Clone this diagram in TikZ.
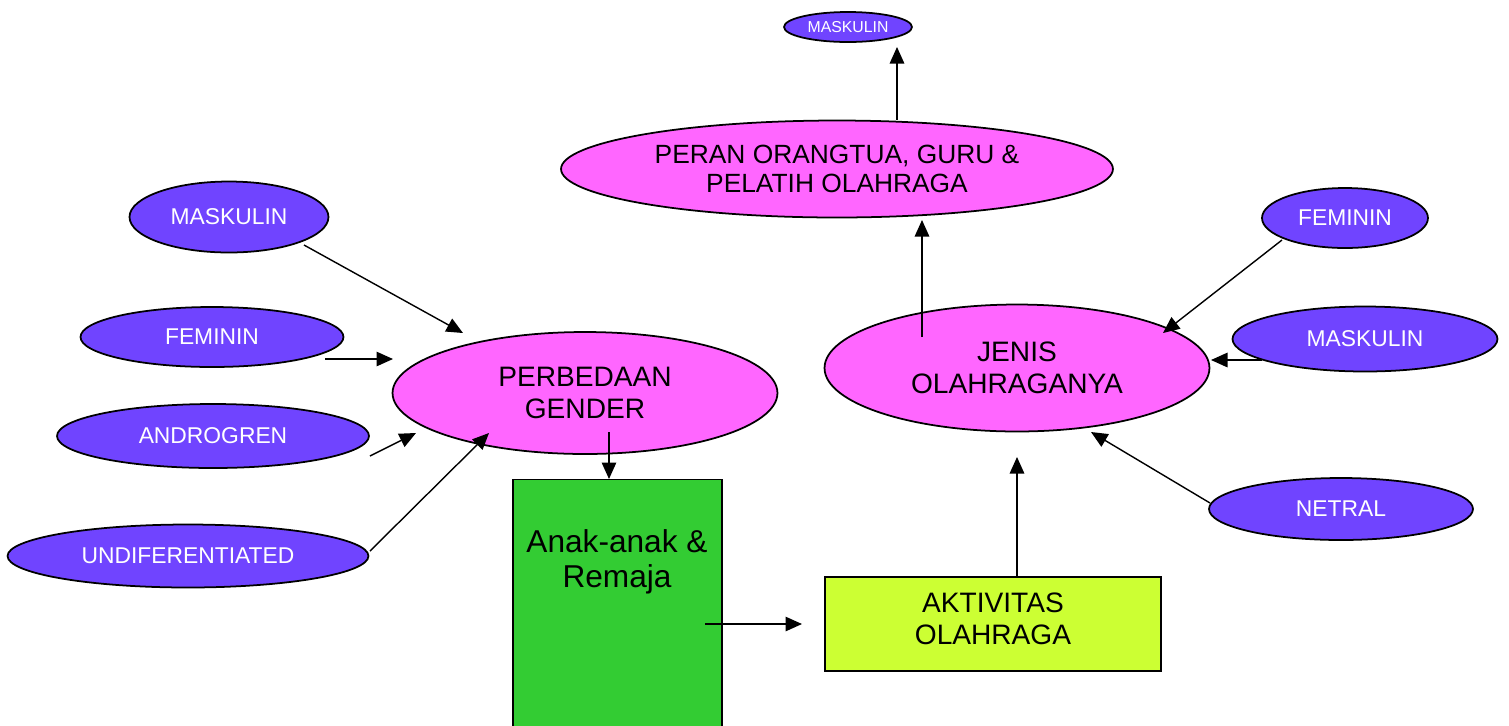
\documentclass[tikz,border=0pt]{standalone}
\usepackage{fontspec}
\setmainfont{Liberation Sans}
\usetikzlibrary{shapes.geometric,arrows.meta}
\definecolor{pinkfill}{HTML}{FF66FF}
\definecolor{purplefill}{HTML}{7044FF}
\definecolor{greenfill}{HTML}{33CC33}
\definecolor{limefill}{HTML}{CCFF33}
\tikzset{
  pinkell/.style={ellipse, draw=black, line width=1pt, fill=pinkfill, inner sep=0pt, align=center, font=\fontsize{16}{18}\selectfont},
  purpell/.style={ellipse, draw=black, line width=1pt, fill=purplefill, inner sep=0pt, text=white, font=\fontsize{13}{15}\selectfont},
  arr/.style={-{Triangle[length=0.33cm,width=0.29cm]}, line width=0.8pt},
}
\begin{document}
\begin{tikzpicture}[x=0.02cm,y=-0.02cm]
\useasboundingbox (0,0) rectangle (1509,725);
% ellipses
\node[purpell, minimum width=2.56cm, minimum height=0.6cm, font=\fontsize{9}{11}\selectfont] (topmask) at (848,27) {MASKULIN};
\node[pinkell, minimum width=11.04cm, minimum height=1.94cm, font=\fontsize{15}{16.5}\selectfont] (peran) at (837,169) {PERAN ORANGTUA, GURU \&\\PELATIH OLAHRAGA};
\node[purpell, minimum width=3.98cm, minimum height=1.42cm] (maskL) at (229,217) {MASKULIN};
\node[purpell, minimum width=5.26cm, minimum height=1.2cm] (feminL) at (212,337) {FEMININ};
\node[purpell, minimum width=6.24cm, minimum height=1.28cm] (andro) at (213,436) {ANDROGREN};
\node[purpell, minimum width=7.22cm, minimum height=1.26cm] (undif) at (188,556) {UNDIFERENTIATED};
\node[pinkell, minimum width=7.7cm, minimum height=2.44cm] (perbed) at (585,393) {PERBEDAAN\\GENDER};
\node[pinkell, minimum width=7.7cm, minimum height=2.54cm] (jenis) at (1017,368) {JENIS\\OLAHRAGANYA};
\node[purpell, minimum width=3.32cm, minimum height=1.2cm] (feminR) at (1345,218) {FEMININ};
\node[purpell, minimum width=5.3cm, minimum height=1.3cm] (maskR) at (1365,339) {MASKULIN};
\node[purpell, minimum width=5.28cm, minimum height=1.24cm] (netral) at (1341,509) {NETRAL};
% rectangles
\node[rectangle, draw=black, line width=0.8pt, fill=greenfill, minimum width=4.18cm, minimum height=5.1cm, inner sep=0pt] (anak) at (617.5,607) {};
\node[align=center, font=\fontsize{18}{20}\selectfont] (anaktext) at (617,562) {Anak-anak \&\\Remaja};
\node[rectangle, draw=black, line width=0.8pt, fill=limefill, minimum width=6.72cm, minimum height=1.88cm, inner sep=0pt] (aktiv) at (993,624) {};
\node[align=center, font=\fontsize{16}{18}\selectfont] (aktivtext) at (993,619) {AKTIVITAS\\OLAHRAGA};
% connector end coordinates
\coordinate (c1s) at (922,337); \coordinate (c1e) at (922,220);
\coordinate (c2s) at (897,120); \coordinate (c2e) at (897,47);
\coordinate (c3s) at (304,245); \coordinate (c3e) at (463,333);
\coordinate (c4s) at (325,359); \coordinate (c4e) at (393,359);
\coordinate (c5s) at (370,456); \coordinate (c5e) at (416,433);
\coordinate (c6s) at (370,551); \coordinate (c6e) at (489,433);
\coordinate (c7s) at (609,432); \coordinate (c7e) at (609,479);
\coordinate (c8s) at (705,624); \coordinate (c8e) at (802,624);
\coordinate (c9s) at (1017,577); \coordinate (c9e) at (1017,457);
\coordinate (c10s) at (1282,240); \coordinate (c10e) at (1163,333);
\coordinate (c11s) at (1262,360); \coordinate (c11e) at (1211,360);
\coordinate (c12s) at (1210,503); \coordinate (c12e) at (1091,432);
% connectors
\draw[arr] (c1s) -- (c1e);
\draw[arr] (c2s) -- (c2e);
\draw[arr] (c3s) -- (c3e);
\draw[arr] (c4s) -- (c4e);
\draw[arr] (c5s) -- (c5e);
\draw[arr] (c6s) -- (c6e);
\draw[arr] (c7s) -- (c7e);
\draw[arr] (c8s) -- (c8e);
\draw[arr] (c9s) -- (c9e);
\draw[arr] (c10s) -- (c10e);
\draw[arr] (c11s) -- (c11e);
\draw[arr] (c12s) -- (c12e);
\end{tikzpicture}
\end{document}
